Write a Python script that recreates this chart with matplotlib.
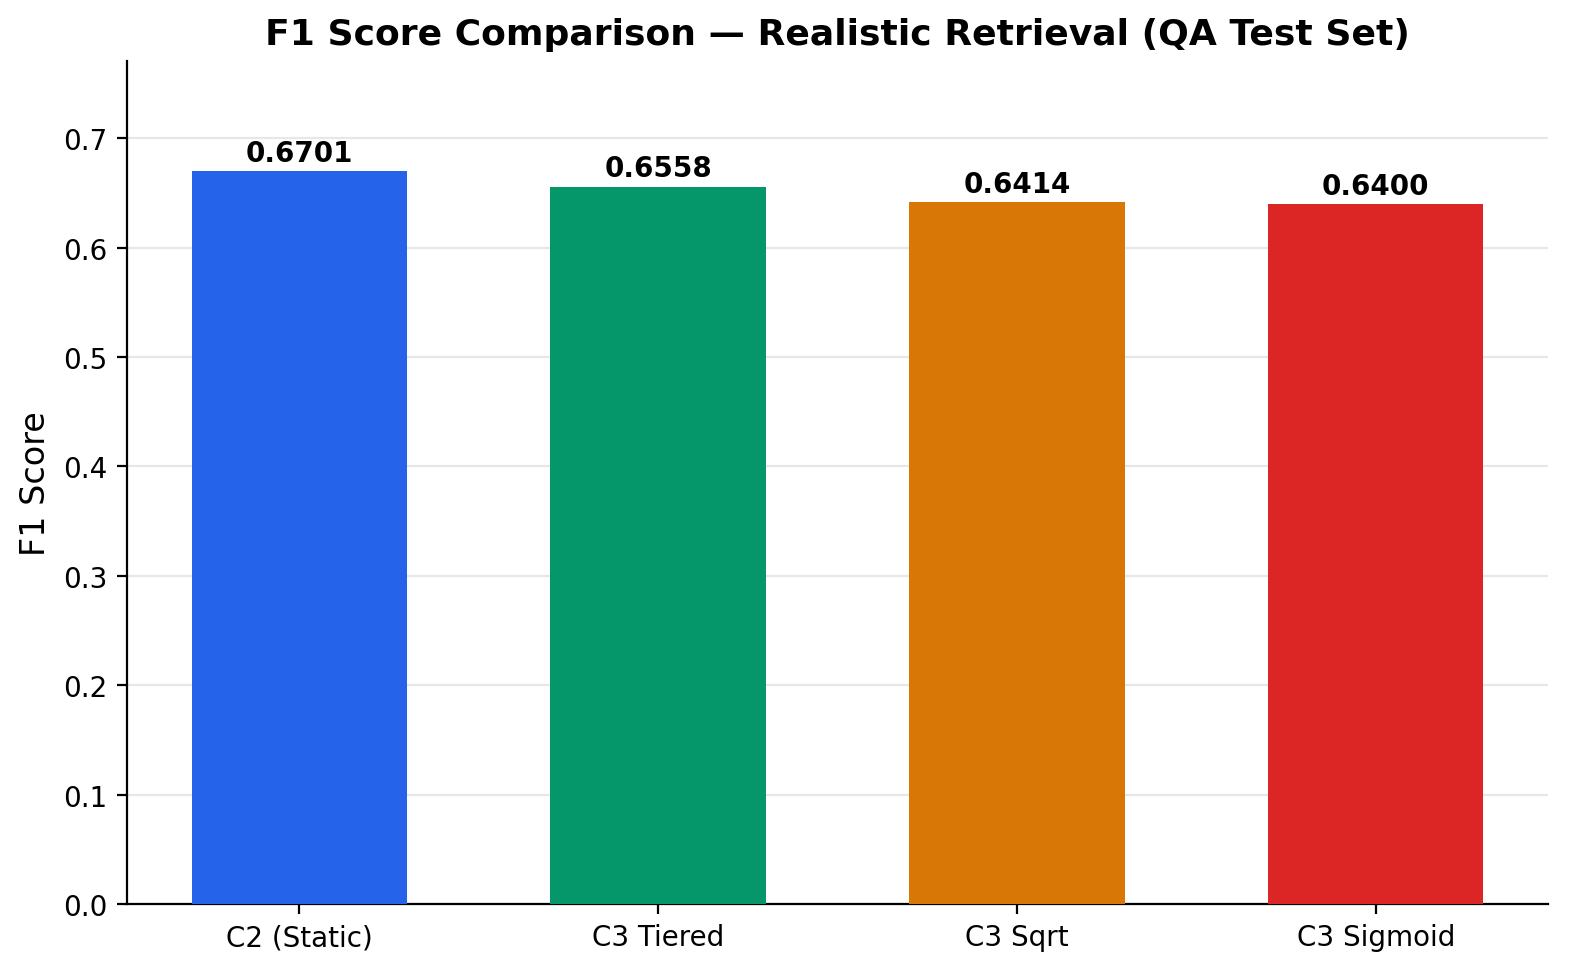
import matplotlib
matplotlib.use("Agg")
import matplotlib.pyplot as plt

categories = ["C2 (Static)", "C3 Tiered", "C3 Sqrt", "C3 Sigmoid"]
f1_scores = [0.6701, 0.6558, 0.6414, 0.6400]
colors = ["#2563eb", "#059669", "#d97706", "#dc2626"]

fig, ax = plt.subplots(figsize=(7.885, 4.89), dpi=200)
fig.subplots_adjust(left=0.0805, right=0.9816, bottom=0.0746, top=0.9366)

bars = ax.bar(categories, f1_scores, color=colors, width=0.6, zorder=3)
for b, v in zip(bars, f1_scores):
    ax.text(b.get_x() + b.get_width() / 2, v + 0.004, f"{v:.4f}",
            ha="center", va="bottom", fontsize=10, fontweight="bold")

ax.set_ylim(0, max(f1_scores) * 1.15)
ax.set_ylabel("F1 Score", fontsize=12)
ax.set_title("F1 Score Comparison — Realistic Retrieval (QA Test Set)",
             fontsize=13, fontweight="bold")
ax.yaxis.grid(True, alpha=0.3, zorder=0)
ax.set_axisbelow(True)
ax.spines["top"].set_visible(False)
ax.spines["right"].set_visible(False)
ax.tick_params(labelsize=10)

fig.savefig("out.png", dpi=200)
